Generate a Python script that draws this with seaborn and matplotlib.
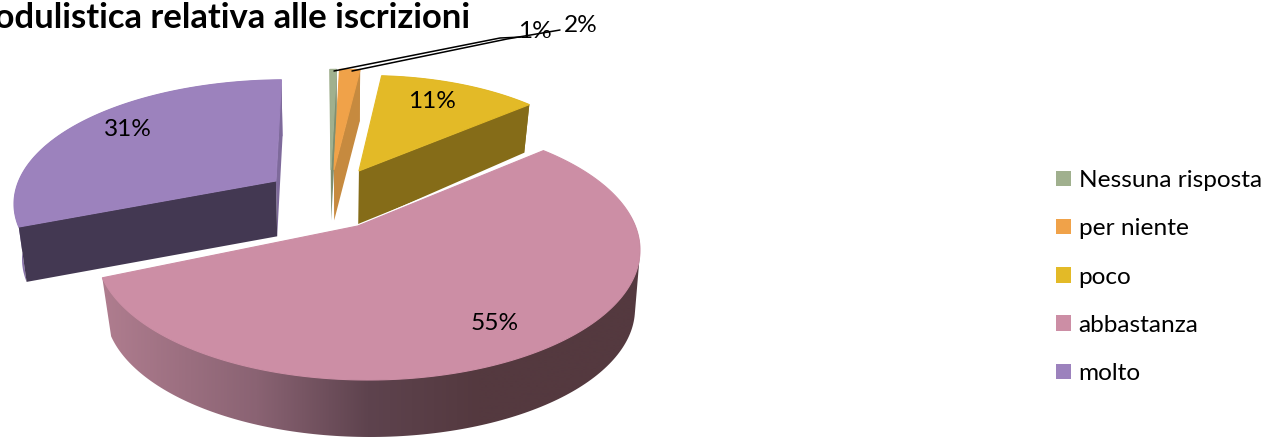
import numpy as np
import matplotlib
matplotlib.use("Agg")
import matplotlib.pyplot as plt
from matplotlib.colors import LinearSegmentedColormap
from matplotlib.patches import Patch, Polygon
import seaborn as sns

# ---- data ----
title = "Modulistica relativa alle iscrizioni"
categories = ["Nessuna risposta", "per niente", "poco", "abbastanza", "molto"]
values = [1, 2, 11, 55, 31]
top_colors = ["#A0B08E", "#F0A249", "#E3BA27", "#CC8EA5", "#9C82BD"]
side_colors = ["#7F8F70", "#C68A3F", "#856C18", "#54393F", "#433852"]

sns.set_theme(style="white")
plt.rcParams["font.family"] = ["Lato", "DejaVu Sans"]
palette = sns.color_palette(top_colors)

# ---- layout of the 3-D projection (pixels) ----
TOP = dict(cx=368, cy=250, a=272, b=130)
BOT = dict(cx=370, cy=309, a=265, b=128)
K = np.array([-0.037, 0.185])
# explosion: shift, scale, start/end angle tweak (degrees); *b = bottom face
explode = [
    dict(dx=-27, dy=-56, s=0.95, sy=0.95, dxb=-29, dyb=-65, sby=0.95, t0=-0.5, t1=-2.3),
    dict(dx=-24, dy=-56, s=0.95, sy=0.95, dxb=-26, dyb=-65, sby=0.95, t0=-2.3, t1=-4.0),
    dict(dx=1, dy=-55, s=0.90, sy=0.90, dxb=-2, dyb=-60, sby=1.0, t0=-4.6, t1=0),
    dict(dx=0, dy=0, s=1.0, sy=1.0, dxb=0, dyb=0, sby=1.0, t0=-1.2, t1=-1.6),
    dict(dx=-82, dy=-45, s=1.0, sy=0.955, dxb=-83, dyb=-49, sby=0.96, t0=0, t1=1.2),
]
label_xy = [(535, 32), (581, 25), (432, 101), (495, 323), (128, 130)]


def klein(theta):
    """Unit circle position at clockwise angle theta, seen in perspective."""
    th = np.radians(theta)
    p = np.stack([np.sin(th), np.cos(th)], axis=-1)
    k = np.hypot(*K)
    e = K / k
    n = np.array([e[1], -e[0]])
    par = p @ e
    per = p @ n
    w = 1 + k * par
    new_par = (par + k) / w
    new_per = per * np.sqrt(1 - k * k) / w
    return new_par[..., None] * e + new_per[..., None] * n


def to_px(q, P):
    return np.stack([P["cx"] + P["a"] * q[..., 0], P["cy"] - P["b"] * q[..., 1]], axis=-1)


APEX_T = to_px(K, TOP)
APEX_B = to_px(K, BOT)


def rim_top(theta, e):
    v = to_px(klein(theta), TOP) - APEX_T
    return APEX_T + v * np.array([e["s"], e["sy"]]) + np.array([e["dx"], e["dy"]])


def rim_bot(theta, e):
    v = to_px(klein(theta), BOT) - APEX_B
    return APEX_B + v * np.array([e["s"], e["sby"]]) + np.array([e["dxb"], e["dyb"]])


def hull(points):
    pts = sorted(map(tuple, points))
    def half(seq):
        out = []
        for p in seq:
            while len(out) > 1 and ((out[-1][0] - out[-2][0]) * (p[1] - out[-2][1])
                                    - (out[-1][1] - out[-2][1]) * (p[0] - out[-2][0])) <= 0:
                out.pop()
            out.append(p)
        return out[:-1]
    return np.array(half(pts) + half(pts[::-1]))


fig, ax = plt.subplots(figsize=(12.65, 4.37), dpi=100)
fig.subplots_adjust(0, 0, 1, 1)

shares = np.array(values, dtype=float) / sum(values) * 360
ends = np.cumsum(shares)
starts = ends - shares

grad = LinearSegmentedColormap.from_list(
    "side", [(0, "#AE7C8E"), (0.40, "#8A6373"), (0.70, "#5E434E"), (1, "#54393F")])
ramp = grad(np.clip((np.linspace(100, 645, 546) - 107) / (480 - 107), 0, 1))[None, :, :]

order = [4, 0, 1, 2, 3]
for i in order:
    e = explode[i]
    t0, t1 = starts[i] + e["t0"], ends[i] + e["t1"]
    th = np.linspace(t0, t1, 200)
    top = rim_top(th, e)
    bot = rim_bot(th, e)
    at = APEX_T + np.array([e["dx"], e["dy"]])
    ab = APEX_B + np.array([e["dxb"], e["dyb"]])
    z = 2 + order.index(i)
    dark = side_colors[i]
    if i == 3:
        im = ax.imshow(ramp, extent=(100, 645, 437, 140), aspect="auto", zorder=z, interpolation="bilinear")
        front = th >= 85  # the part of the wall that faces the viewer
        clip = Polygon(hull(np.vstack([top[front], bot[front]])), closed=True, transform=ax.transData,
                       facecolor="none", edgecolor="none")
        ax.add_patch(clip)
        im.set_clip_path(clip)
    else:
        wall = np.vstack([top, bot[::-1]])
        wc = "#8670A8" if i == 4 else dark
        ax.fill(wall[:, 0], wall[:, 1], color=wc, lw=0, zorder=z)
    # flat cut faces
    if i == 4:
        face = np.array([at, top[0], bot[0], ab])
        ax.fill(face[:, 0], face[:, 1], color=dark, lw=0, zorder=z + 0.1)
        face = np.array([at, top[-1], bot[-1], ab])
        ax.fill(face[:, 0], face[:, 1], color="#7E6A9B", lw=0, zorder=z + 0.05)
    elif i in (0, 1):
        face = np.array([at, top[-1], bot[-1], ab])
        ax.fill(face[:, 0], face[:, 1], color=dark, lw=0, zorder=z + 0.1)
        face = np.array([at, top[0], bot[0], ab])
        ax.fill(face[:, 0], face[:, 1], color=palette[i], lw=0, zorder=z + 0.05)
    elif i == 2:
        face = np.array([at, top[-1], bot[-1], ab])
        ax.fill(face[:, 0], face[:, 1], color=dark, lw=0, zorder=z + 0.1)
    # top face
    poly = np.vstack([at, top])
    ax.fill(poly[:, 0], poly[:, 1], facecolor=palette[i], edgecolor=palette[i], lw=0.8, zorder=z + 0.2)
    if i == 3:
        ax.plot(poly[[1, 0, -1], 0], poly[[1, 0, -1], 1] - 1, color="white", lw=1.2, zorder=z + 0.15)

ax.set_xlim(0, 1265)
ax.set_ylim(437, 0)
ax.axis("off")

# data labels and leader lines
for i, v in enumerate(values):
    ax.text(*label_xy[i], f"{v}%", fontsize=17.6, color="black", ha="center", va="center", zorder=20)

for tail, knee, end in [((334, 71), (500, 38), (522, 37)), ((352, 71), (507, 39), (560, 30))]:
    xs, ys = zip(tail, knee, end)
    ax.plot(xs, ys, color="black", lw=1.1, zorder=19)

ax.text(470, 18.5, title, fontsize=24.9, fontweight="bold", color="black", ha="right", va="center", zorder=20)

handles = [Patch(facecolor=palette[i], edgecolor="none", label=c) for i, c in enumerate(categories)]
leg = ax.legend(handles=handles, loc="upper left", bbox_to_anchor=(1056, 170), bbox_transform=ax.transData,
                frameon=False, fontsize=17.6, handlelength=0.6, handleheight=0.6, handletextpad=0.33,
                labelspacing=1.115, borderpad=0, borderaxespad=0)
for t in leg.get_texts():
    t.set_color("black")

fig.savefig("out.png", dpi=100)
